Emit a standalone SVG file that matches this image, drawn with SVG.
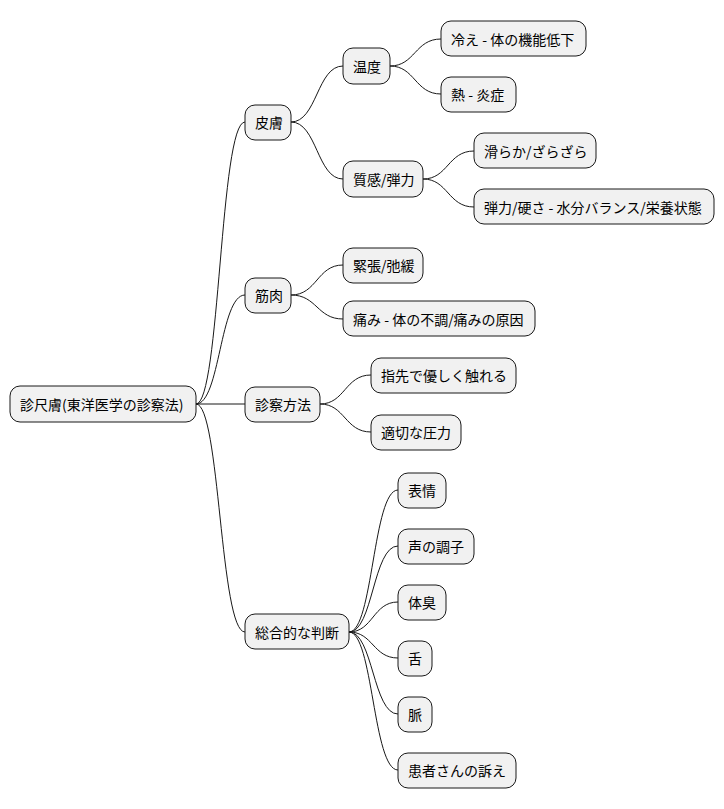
<svg xmlns="http://www.w3.org/2000/svg" width="724" height="809" viewBox="0 0 724 809">
<style>
rect{fill:#f1f1f1;stroke:#181818;stroke-width:1}
text{font-family:"Noto Sans CJK JP","Liberation Sans",sans-serif;font-size:14px;fill:#000;dominant-baseline:central}
#connectors path{fill:none;stroke:#181818;stroke-width:1}
</style>
<rect x="0" y="0" width="724" height="809" style="fill:#fff;stroke:none"/>
<g id="connectors">
<path d="M196,404 C220,404 220,122 245,122"/>
<path d="M196,404 C220,404 220,295 245,295"/>
<path d="M196,404 L245,404"/>
<path d="M196,404 C220,404 220,632 245,632"/>
<path d="M291,122 C317,122 317,66 343,66"/>
<path d="M291,122 C317,122 317,179 343,179"/>
<path d="M390,66 C415,66 415,39 441,39"/>
<path d="M390,66 C415,66 415,94 441,94"/>
<path d="M423,179 C448,179 448,151 474,151"/>
<path d="M423,179 C448,179 448,207 474,207"/>
<path d="M291,295 C317,295 317,265 343,265"/>
<path d="M291,295 C317,295 317,319 343,319"/>
<path d="M320,404 C345,404 345,375 371,375"/>
<path d="M320,404 C345,404 345,432 371,432"/>
<path d="M349,632 C373,632 373,490 398,490"/>
<path d="M349,632 C373,632 373,546 398,546"/>
<path d="M349,632 C373,632 373,602 398,602"/>
<path d="M349,632 C373,632 373,658 398,658"/>
<path d="M349,632 C373,632 373,714 398,714"/>
<path d="M349,632 C373,632 373,770 398,770"/>
</g>
<g id="root"><rect x="10" y="386" width="186" height="36" rx="10"/><text x="20" y="404">診尺膚(東洋医学の診察法)</text></g>
<g id="hifu"><rect x="245" y="105" width="46" height="35" rx="10"/><text x="255" y="122">皮膚</text></g>
<g id="ondo"><rect x="343" y="48" width="47" height="36" rx="10"/><text x="353" y="66">温度</text></g>
<g id="hie"><rect x="441" y="21" width="145" height="35" rx="10"/><text x="451" y="39">冷え - 体の機能低下</text></g>
<g id="netsu"><rect x="441" y="77" width="75" height="35" rx="10"/><text x="451" y="94">熱 - 炎症</text></g>
<g id="shitsukan"><rect x="343" y="161" width="80" height="36" rx="10"/><text x="353" y="179">質感/弾力</text></g>
<g id="nameraka"><rect x="474" y="133" width="122" height="35" rx="10"/><text x="484" y="151">滑らか/ざらざら</text></g>
<g id="danryoku"><rect x="474" y="189" width="240" height="35" rx="10"/><text x="484" y="207">弾力/硬さ - 水分バランス/栄養状態</text></g>
<g id="kinniku"><rect x="245" y="278" width="46" height="35" rx="10"/><text x="255" y="295">筋肉</text></g>
<g id="kincho"><rect x="343" y="248" width="80" height="35" rx="10"/><text x="353" y="265">緊張/弛緩</text></g>
<g id="itami"><rect x="343" y="301" width="192" height="35" rx="10"/><text x="353" y="319">痛み - 体の不調/痛みの原因</text></g>
<g id="houhou"><rect x="245" y="387" width="75" height="35" rx="10"/><text x="255" y="404">診察方法</text></g>
<g id="yubisaki"><rect x="371" y="358" width="145" height="35" rx="10"/><text x="381" y="375">指先で優しく触れる</text></g>
<g id="atsuryoku"><rect x="371" y="415" width="90" height="35" rx="10"/><text x="381" y="432">適切な圧力</text></g>
<g id="sougou"><rect x="245" y="614" width="104" height="35" rx="10"/><text x="255" y="632">総合的な判断</text></g>
<g id="hyoujou"><rect x="398" y="473" width="48" height="35" rx="10"/><text x="408" y="490">表情</text></g>
<g id="koe"><rect x="398" y="529" width="76" height="35" rx="10"/><text x="408" y="546">声の調子</text></g>
<g id="taishu"><rect x="398" y="585" width="48" height="35" rx="10"/><text x="408" y="602">体臭</text></g>
<g id="shita"><rect x="398" y="641" width="34" height="35" rx="10"/><text x="408" y="658">舌</text></g>
<g id="myaku"><rect x="398" y="697" width="34" height="35" rx="10"/><text x="408" y="714">脈</text></g>
<g id="uttae"><rect x="398" y="753" width="118" height="35" rx="10"/><text x="408" y="770">患者さんの訴え</text></g>
</svg>
